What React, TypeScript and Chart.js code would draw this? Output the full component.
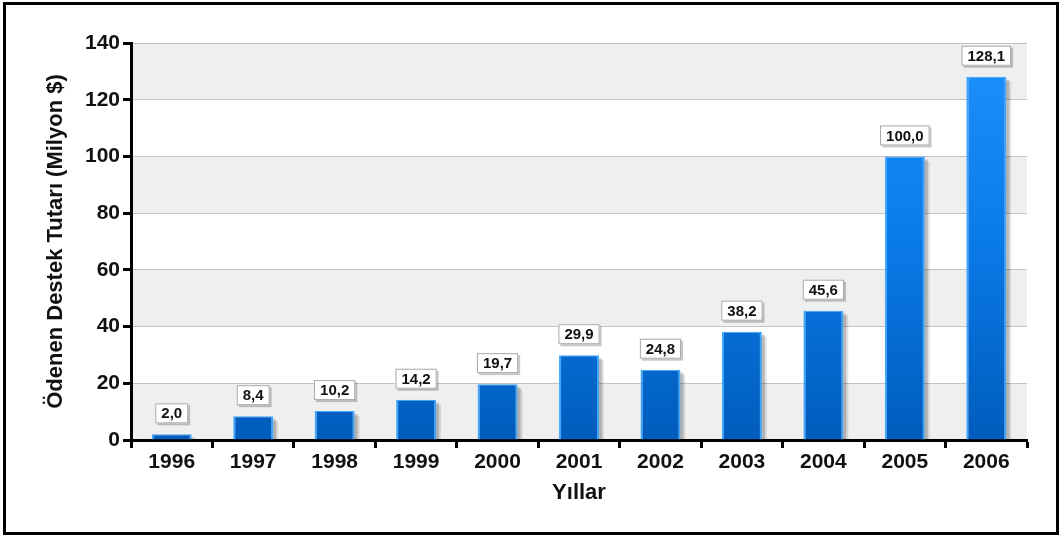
import React, { useEffect, useRef } from "react";
import { Chart, registerables } from "chart.js";

Chart.register(...registerables);

const categories = ["1996", "1997", "1998", "1999", "2000", "2001", "2002", "2003", "2004", "2005", "2006"];
const values = [2.0, 8.4, 10.2, 14.2, 19.7, 29.9, 24.8, 38.2, 45.6, 100.0, 128.1];
const valueLabels = ["2,0", "8,4", "10,2", "14,2", "19,7", "29,9", "24,8", "38,2", "45,6", "100,0", "128,1"];
const yTicks = [0, 20, 40, 60, 80, 100, 120, 140];
const yTitle = "Ödenen Destek Tutarı (Milyon $)";
const xTitle = "Yıllar";

const FONT = "'Liberation Sans', Arial, sans-serif";

const bandsPlugin = {
  id: "bands",
  beforeDraw(chart: any) {
    const { ctx, chartArea, scales } = chart;
    const y = scales.y;
    ctx.save();
    ctx.fillStyle = "#ffffff";
    ctx.fillRect(0, 0, chart.width, chart.height);
    for (let i = 0; i < yTicks.length - 1; i++) {
      if (i % 2 === 0) {
        const top = y.getPixelForValue(yTicks[i + 1]);
        const bot = y.getPixelForValue(yTicks[i]);
        ctx.fillStyle = "#efefef";
        ctx.fillRect(chartArea.left, top, chartArea.right - chartArea.left, bot - top);
      }
    }
    ctx.strokeStyle = "#000000";
    ctx.lineWidth = 3;
    ctx.strokeRect(4.5, 3.5, chart.width - 8, chart.height - 6);
    ctx.restore();
  },
};

const barShadowPlugin = {
  id: "barShadow",
  beforeDatasetsDraw(chart: any) {
    const { ctx } = chart;
    const meta = chart.getDatasetMeta(0);
    ctx.save();
    meta.data.forEach((bar: any) => {
      const w = bar.width;
      const left = bar.x - w / 2;
      ctx.fillStyle = "rgba(0,0,0,0.18)";
      ctx.fillRect(left + 3, bar.y + 3, w, bar.base - bar.y - 3);
      ctx.fillStyle = "rgba(0,0,0,0.10)";
      ctx.fillRect(left + 5, bar.y + 5, w, bar.base - bar.y - 5);
    });
    ctx.restore();
  },
};

const labelPlugin = {
  id: "valueLabels",
  afterDatasetsDraw(chart: any) {
    const { ctx } = chart;
    const meta = chart.getDatasetMeta(0);
    ctx.save();
    ctx.font = `bold 15px ${FONT}`;
    ctx.textAlign = "center";
    ctx.textBaseline = "middle";
    meta.data.forEach((bar: any, i: number) => {
      const text = valueLabels[i];
      const tw = ctx.measureText(text).width;
      const bw = tw + 12;
      const bh = 20;
      const cx = bar.x;
      const bottom = bar.y - 11;
      const top = bottom - bh;
      const left = cx - bw / 2;
      ctx.fillStyle = "rgba(0,0,0,0.22)";
      ctx.fillRect(left + 2, top + 2, bw, bh);
      ctx.fillStyle = "#ffffff";
      ctx.fillRect(left, top, bw, bh);
      ctx.strokeStyle = "#a8a8a8";
      ctx.lineWidth = 1;
      ctx.strokeRect(left + 0.5, top + 0.5, bw - 1, bh - 1);
      ctx.fillStyle = "#111111";
      ctx.fillText(text, cx, top + bh / 2 + 1);
    });
    ctx.restore();
  },
};

export default function App() {
  const ref = useRef<HTMLCanvasElement>(null);
  useEffect(() => {
    document.body.style.margin = "0";
    const canvas = ref.current!;
    const chart = new Chart(canvas, {
      type: "bar",
      data: {
        labels: categories,
        datasets: [
          {
            data: values,
            backgroundColor: (c: any) => {
              const area = c.chart.chartArea;
              if (!area) return "#1080f0";
              const g = c.chart.ctx.createLinearGradient(0, area.top, 0, area.bottom);
              g.addColorStop(0, "#1e92ff");
              g.addColorStop(0.5, "#0a7ae8");
              g.addColorStop(1, "#005cbc");
              return g;
            },
            borderColor: "#3aa6ff",
            borderWidth: { left: 2, right: 2, top: 1, bottom: 0 },
            borderSkipped: false,
            categoryPercentage: 1,
            barPercentage: 0.49,
          },
        ],
      },
      options: {
        animation: false,
        responsive: false,
        maintainAspectRatio: false,
        devicePixelRatio: 1,
        layout: { padding: { left: 0, right: 34, top: 43, bottom: 0 } },
        plugins: {
          legend: { display: false },
          tooltip: { enabled: false },
        },
        scales: {
          x: {
            afterFit: (s: any) => {
              s.height = 96;
            },
            grid: {
              offset: true,
              drawOnChartArea: false,
              drawTicks: true,
              tickLength: 8,
              tickColor: "#000000",
              tickWidth: 3,
            },
            border: { color: "#000000", width: 3 },
            ticks: {
              color: "#111111",
              font: { family: FONT, size: 21, weight: "bold" },
              padding: 2,
            },
            title: {
              display: true,
              text: xTitle,
              color: "#111111",
              font: { family: FONT, size: 22, weight: "bold" },
              padding: { top: 0, bottom: 30 },
            },
          },
          y: {
            min: 0,
            max: 140,
            afterFit: (s: any) => {
              s.width = 131;
            },
            afterBuildTicks: (s: any) => {
              s.ticks = yTicks.map((v) => ({ value: v }));
            },
            grid: {
              color: "#c4c4c4",
              lineWidth: 1,
              drawTicks: true,
              tickLength: 8,
              tickColor: "#000000",
              tickWidth: 3,
            },
            border: { color: "#000000", width: 3 },
            ticks: {
              color: "#111111",
              font: { family: FONT, size: 21, weight: "bold" },
              padding: 3,
            },
            title: {
              display: true,
              text: yTitle,
              color: "#111111",
              font: { family: FONT, size: 22, weight: "bold" },
              padding: { top: 43, bottom: 0 },
            },
          },
        },
      },
      plugins: [bandsPlugin, barShadowPlugin, labelPlugin],
    });
    return () => chart.destroy();
  }, []);
  return (
    <div style={{ position: "fixed", left: 0, top: 0, width: 1061, height: 536 }}>
      <canvas ref={ref} width={1061} height={536} style={{ width: 1061, height: 536, display: "block" }} />
    </div>
  );
}
